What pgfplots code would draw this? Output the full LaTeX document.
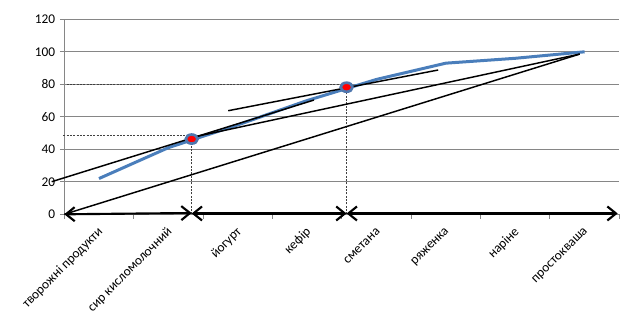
\documentclass[border=0pt]{standalone}
\usepackage{fontspec}
\setmainfont{Carlito}
\usepackage{pgfplots}
\pgfplotsset{compat=1.18}
\usetikzlibrary{arrows.meta}
\definecolor{xlblue}{HTML}{4A7EBB}
\definecolor{xlgrid}{HTML}{868686}
\definecolor{mkblue}{HTML}{4F77AE}
\begin{document}
\begin{tikzpicture}
\begin{axis}[
  scale only axis, width=416.25pt, height=146.25pt,
  xmin=0.5, xmax=8.5, ymin=0, ymax=120,
  axis lines*=left,
  axis line style={xlgrid, line width=0.75pt},
  xtick={1,...,8},
  xticklabels={творожні продукти, сир кисломолочний, йогурт, кефір, сметана, ряженка, наріне, простокваша},
  minor xtick={0.5,1.5,...,8.5},
  major x tick style={draw=none},
  minor tick length=3.4pt,
  tick align=outside,
  ytick={0,20,...,120},
  major tick length=3.4pt,
  tick style={xlgrid, line width=0.75pt},
  ymajorgrids, grid style={xlgrid, line width=0.75pt},
  tick label style={font=\fontsize{10}{12}\selectfont},
  /pgf/number format/assume math mode=true,
  xticklabel style={xshift=2.2pt, yshift=-7.5pt, rotate=45, anchor=east, inner sep=1pt},
  clip=false,
]
\coordinate (O) at (rel axis cs:0,0);
% cumulative curve
\addplot[xlblue, line width=2.25pt, mark=none] coordinates {(1,22)(2,41)(3,55)(4,70)(5,83)(6,93)(7,96)(8,100)};
% dashed guides
\addplot[black!75, line width=0.6pt, dash pattern=on 1.5pt off 1pt] coordinates {(0.486,48.5)(2.27,48.5)};
\addplot[black!75, line width=0.6pt, dash pattern=on 1.5pt off 1pt] coordinates {(2.336,0)(2.336,44)};
\addplot[black!75, line width=0.6pt, dash pattern=on 1.5pt off 1pt] coordinates {(0.535,80)(4.47,80)};
\addplot[black!75, line width=0.6pt, dash pattern=on 1.5pt off 1pt] coordinates {(4.569,0)(4.569,76)};
% straight lines
\addplot[black, line width=1.1pt] coordinates {(0.318,20.06)(4.098,70.3)};
\addplot[black, line width=1.1pt] coordinates {(2.863,63.75)(5.889,88.8)};
\addplot[black, line width=1.1pt] coordinates {(2.336,47.3)(7.93,98.6)};
\addplot[black, line width=1.1pt] coordinates {(0.5,0)(7.93,98.6)};
% axis arrows
\addplot[black, line width=1.6pt, >={Straight Barb[length=6.5pt,width=10.5pt]}, <->] coordinates {(0.5,0)(2.336,0.8)};
\addplot[black, line width=1.6pt, >={Straight Barb[length=6.5pt,width=10.5pt]}, <->] coordinates {(2.336,0.5)(4.569,0.5)};
\addplot[black, line width=1.6pt, >={Straight Barb[length=6.5pt,width=10.5pt]}, <->] coordinates {(4.569,0.5)(8.477,0.5)};
% points
\addplot[only marks, mark=*, mark size=3.4pt, mark options={fill=red, draw=mkblue, line width=2pt, xscale=1.3}] coordinates {(2.336,46.3)(4.569,78.2)};
\end{axis}
\pgfresetboundingbox
\path[use as bounding box] ([shift={(-48.225pt,-82.275pt)}]O) rectangle ++(481.5pt,243pt);
\end{tikzpicture}
\end{document}
